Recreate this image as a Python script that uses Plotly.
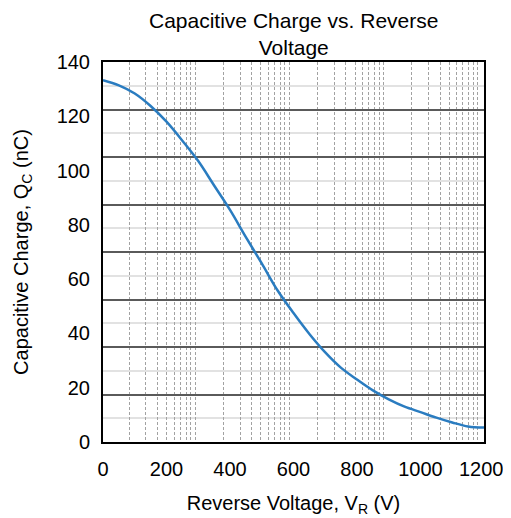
import plotly.graph_objects as go

# ---- data ----
voltage = [0, 50, 100, 150, 200, 250, 300, 350, 400, 450, 500, 550, 600,
           650, 700, 750, 800, 850, 900, 950, 1000, 1050, 1100, 1150, 1200]
charge = [133.3, 131.4, 128.4, 123.8, 118.0, 111.0, 103.5, 94.5, 85.5, 75.5,
          65.8, 55.8, 47.5, 39.8, 33.0, 27.3, 23.0, 19.0, 15.7, 13.0,
          11.0, 9.0, 7.2, 5.7, 5.3]
x_ticks = [0, 200, 400, 600, 800, 1000, 1200]
y_ticks = [0, 20, 40, 60, 80, 100, 120, 140]

# background grid of the scanned chart (log-style vertical grid, 1/8 horizontal)
log_grid_range = [0.0212, 4.069]
h_grid_major = 17.5
h_grid_minor = 8.75

FONT = "Liberation Sans, Arial, sans-serif"

x_ticktext = [str(v) for v in x_ticks]
x_ticktext[-1] = x_ticktext[-1] + "\u00a0"   # keep the last label inside the page edge

fig = go.Figure()
# invisible trace that carries the background-grid axes
fig.add_trace(go.Scatter(x=[10, 100], y=[None, None], xaxis="x", yaxis="y",
                         mode="lines", showlegend=False, hoverinfo="skip"))
# the curve
fig.add_trace(go.Scatter(x=voltage, y=charge, xaxis="x2", yaxis="y2",
                         mode="lines", showlegend=False,
                         line=dict(color="#2a7cc0", width=2.5, shape="spline")))

# page body has an 8px default margin, so the figure is sized/offset for it
fig.update_layout(
    width=503, height=510,
    margin=dict(l=95, r=27, t=54, b=76, autoexpand=False),
    paper_bgcolor="white", plot_bgcolor="white",
    font=dict(family=FONT, color="black", size=20),
    xaxis=dict(type="log", range=log_grid_range, dtick="D1", automargin=False,
               showgrid=True, gridcolor="#a2a2a2", gridwidth=1, griddash="3px,2px",
               showticklabels=False, ticks="", showline=False, zeroline=False),
    yaxis=dict(range=[0, 140], tick0=0, dtick=h_grid_major, automargin=False,
               showgrid=True, gridcolor="#5a5a5a", gridwidth=2,
               showticklabels=False, ticks="", showline=False, zeroline=False,
               minor=dict(tick0=0, dtick=h_grid_minor, showgrid=True,
                          gridcolor="#e2e2e2", gridwidth=1.5)),
    xaxis2=dict(overlaying="x", anchor="y2", side="bottom", range=[0, 1200],
                tickvals=x_ticks, ticktext=x_ticktext,
                automargin=False, ticklabeloverflow="allow",
                showgrid=False, zeroline=False,
                ticks="outside", ticklen=8, tickcolor="rgba(0,0,0,0)",
                showline=True, mirror=True, linecolor="black", linewidth=2,
                tickfont=dict(size=20, family=FONT, color="black"),
                title=dict(text="Reverse Voltage, V<sub>R</sub> (V)",
                           font=dict(size=20, family=FONT, color="black"),
                           standoff=17)),
    yaxis2=dict(overlaying="y", anchor="x2", side="left", range=[0, 140],
                tickvals=y_ticks, ticktext=[str(v) for v in y_ticks],
                automargin=False, ticklabeloverflow="allow",
                showgrid=False, zeroline=False,
                ticks="outside", ticklen=7, tickcolor="rgba(0,0,0,0)",
                showline=True, mirror=True, linecolor="black", linewidth=2,
                tickfont=dict(size=20, family=FONT, color="black"),
                title=dict(text="Capacitive Charge, Q<sub>C</sub> (nC)",
                           font=dict(size=20, family=FONT, color="black"),
                           standoff=23)),
    annotations=[dict(text="Capacitive Charge vs. Reverse<br>Voltage",
                      xref="paper", yref="paper", x=0.5, y=1,
                      xanchor="center", yanchor="bottom", yshift=1,
                      showarrow=False,
                      font=dict(size=21, family=FONT, color="black"))],
)

fig.write_html("out.html")
